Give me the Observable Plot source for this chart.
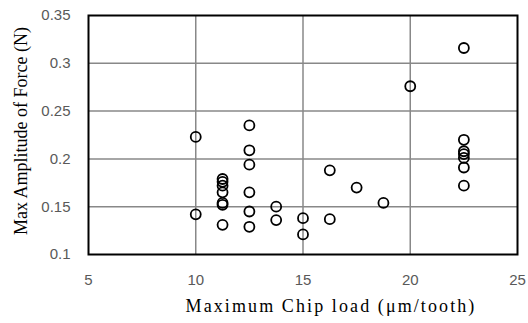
<!DOCTYPE html>
<html><head><meta charset="utf-8">
<script src="https://cdn.jsdelivr.net/npm/d3@7"></script>
<script src="https://cdn.jsdelivr.net/npm/@observablehq/plot@0.6"></script>
<style>body{margin:0;background:#fff}</style>
</head><body><div id="chart"></div>
<script>
const chipLoad = [10, 10,
  11.25, 11.25, 11.25, 11.25, 11.25, 11.25, 11.25,
  12.5, 12.5, 12.5, 12.5, 12.5, 12.5,
  13.75, 13.75,
  15, 15,
  16.25, 16.25,
  17.5, 18.75, 20,
  22.5, 22.5, 22.5, 22.5, 22.5, 22.5, 22.5];
const forceAmp = [0.223, 0.142,
  0.179, 0.176, 0.172, 0.165, 0.154, 0.152, 0.131,
  0.235, 0.209, 0.194, 0.165, 0.145, 0.129,
  0.150, 0.136,
  0.138, 0.121,
  0.188, 0.137,
  0.170, 0.154, 0.276,
  0.316, 0.220, 0.208, 0.205, 0.201, 0.191, 0.172];
const xTicks = [5, 10, 15, 20, 25];
const yTicks = [0.1, 0.15, 0.2, 0.25, 0.3, 0.35];
const xLabel = "Maximum Chip load (\u03bcm/tooth)";
const yLabel = "Max Amplitude of Force (N)";

const data = chipLoad.map((x, i) => ({x, y: forceAmp[i]}));

const chart = Plot.plot({
  width: 528, height: 323,
  marginLeft: 88, marginRight: 11, marginTop: 15, marginBottom: 69,
  style: {fontFamily: "'Liberation Sans', sans-serif", fontSize: "15px", color: "#595959", background: "#fff"},
  x: {domain: [5, 25], ticks: xTicks, label: null, tickSize: 0, tickPadding: 20, tickFormat: d => String(d)},
  y: {domain: [0.1, 0.35], ticks: yTicks, label: null, tickSize: 0, tickPadding: 18, tickFormat: d => String(d)},
  marks: [
    Plot.gridX(xTicks.slice(1, -1), {stroke: "#888", strokeOpacity: 1, strokeWidth: 1.5}),
    Plot.gridY(yTicks.slice(1, -1), {stroke: "#888", strokeOpacity: 1, strokeWidth: 1.5}),
    Plot.frame({stroke: "#000", strokeWidth: 2}),
    Plot.dot(data, {x: "x", y: "y", r: 5, stroke: "#000", strokeWidth: 1.8, fill: "none"}),
    Plot.text([xLabel], {frameAnchor: "bottom", dy: 57, dx: 28, fontFamily: "'Liberation Serif', serif", fontSize: 18, fill: "#000", className: "xlab"}),
    Plot.text([yLabel], {frameAnchor: "left", textAnchor: "middle", rotate: -90, dx: -67, dy: -4, fontFamily: "'Liberation Serif', serif", fontSize: 18, fill: "#000"})
  ]
});
d3.select(chart).selectAll("text").filter(function() { return this.textContent === xLabel; })
  .style("letter-spacing", "2.1px");
document.getElementById("chart").appendChild(chart);
</script>
</body></html>
